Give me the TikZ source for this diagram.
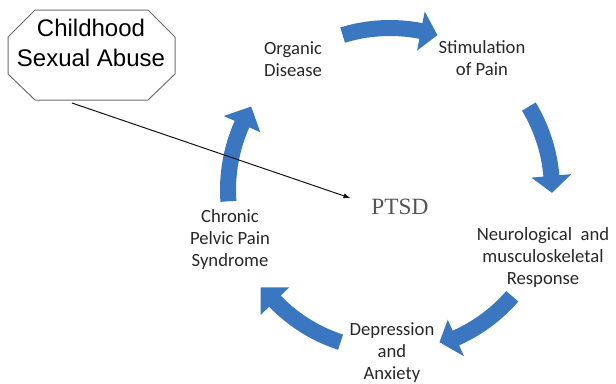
\documentclass[tikz,border=0pt]{standalone}
\usepackage{fontspec}
\setmainfont{Carlito}
\newfontfamily\arialfont{Liberation Sans}
\newfontfamily\timesfont{Liberation Serif}
\usepackage{tikz}

\begin{document}
\begin{tikzpicture}[x=0.75pt,y=0.75pt,yscale=-1,xscale=1,
    cyclearrow/.style={draw opacity=0,fill={rgb, 255:red, 59; green, 118; blue, 192 },fill opacity=1},
    steplabel/.style={anchor=center,inner sep=0.75pt,align=center,text={rgb, 255:red, 40; green, 40; blue, 40 },font=\fontsize{14}{16.5}\selectfont}]
        \useasboundingbox (0,0) rectangle (616,383); %set diagram to 616 x 383

        %Shape: Polygon [id:octagon]
        \draw [color={rgb, 255:red, 110; green, 110; blue, 110 }  ,draw opacity=1 ][line width=0.75] (35,10) -- (148,10) -- (175,37) -- (175,74) -- (148,100) -- (35,100) -- (8,74) -- (8,37) -- cycle ;

        % cycle arrows round (390,190)
        \begin{scope}[shift={(390,190)}]
        %Shape: Curved Arrow [id:top]
        \fill [cyclearrow] (-107:170) arc[start angle=-107, end angle=-79, radius=170] -- (-79:182) -- (-73:162) -- (-79:142) -- (-79:154) arc[start angle=-79, end angle=-107, radius=154] -- cycle ;
        %Shape: Curved Arrow [id:right]
        \fill [cyclearrow] (-31:170) arc[start angle=-31, end angle=-5, radius=170] -- (-5:182) -- (1:162) -- (-5:142) -- (-5:154) arc[start angle=-5, end angle=-31, radius=154] -- cycle ;
        %Shape: Curved Arrow [id:bottomright]
        \fill [cyclearrow] (41:170) arc[start angle=41, end angle=66, radius=170] -- (66:182) -- (72:160) -- (66:142) -- (66:154) arc[start angle=66, end angle=41, radius=154] -- cycle ;
        %Shape: Curved Arrow [id:bottomleft]
        \fill [cyclearrow] (108:168) arc[start angle=108, end angle=136, radius=168] -- (136:180) -- (143:162) -- (136:140) -- (136:152) arc[start angle=136, end angle=108, radius=152] -- cycle ;
        %Shape: Curved Arrow [id:left]
        \fill [cyclearrow] (176:170) arc[start angle=176, end angle=204, radius=170] -- (204:182) -- (211:162) -- (204:142) -- (204:154) arc[start angle=204, end angle=176, radius=154] -- cycle ;
        \end{scope}

        % Text Node
        \node (abuse) at (91,43) [anchor=center][inner sep=0.75pt][align=center][font=\arialfont\fontsize{18}{23}\selectfont] {Childhood\\Sexual Abuse};
        % Text Node
        \node (organic) at (293,59) [steplabel] {Organic\\Disease};
        % Text Node
        \node (stim) at (482,58) [steplabel] {Stimulation\\of Pain};
        % Text Node
        \node (neuro) at (543,258) [steplabel] {Neurological~ and\\musculoskeletal\\Response};
        % Text Node
        \node (depress) at (392,353) [steplabel] {Depression\\and\\Anxiety};
        % Text Node
        \node (chronic) at (230,240) [steplabel] {Chronic\\Pelvic Pain\\Syndrome};
        % Text Node
        \node (ptsd) at (400,207) [anchor=center][inner sep=0.75pt][text={rgb, 255:red, 85; green, 85; blue, 85 }][font=\timesfont\fontsize{17.5}{20}\selectfont] {PTSD};

        %Straight Lines [id:abuse-ptsd]
        \coordinate (abusefoot) at (72,103);
        \draw [color={rgb, 255:red, 20; green, 20; blue, 20 }][line width=0.75] [-latex] (abusefoot) -- ([shift={(-20,-9)}]ptsd.west) ;

\end{tikzpicture}
\end{document}
